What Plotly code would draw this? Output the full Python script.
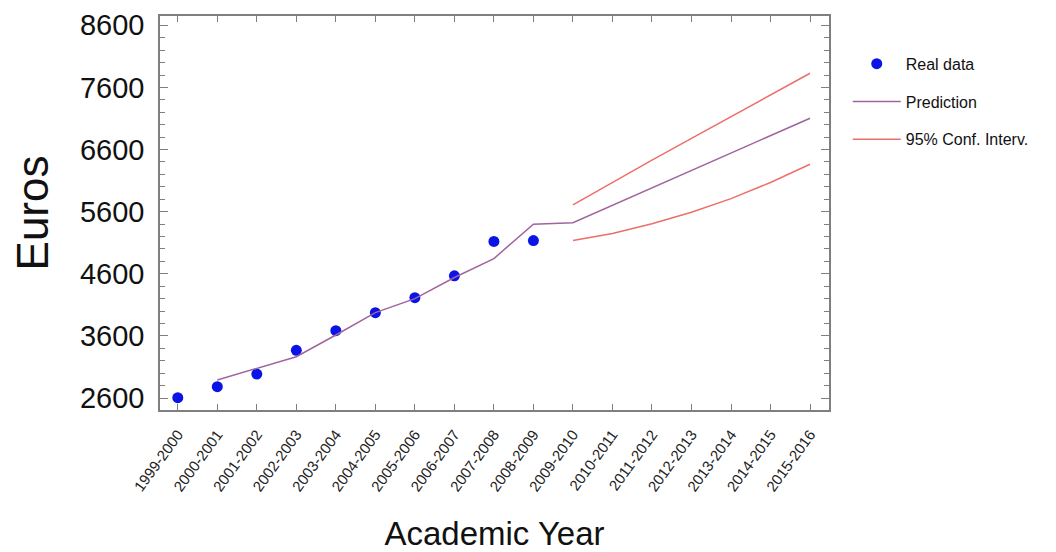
import plotly.graph_objects as go

# Academic years on the x axis
years = [
    "1999-2000", "2000-2001", "2001-2002", "2002-2003", "2003-2004",
    "2004-2005", "2005-2006", "2006-2007", "2007-2008", "2008-2009",
    "2009-2010", "2010-2011", "2011-2012", "2012-2013", "2013-2014",
    "2014-2015", "2015-2016",
]

# Observed fees (euros)
real_years = years[:10]
real_values = [2605, 2782, 2986, 3368, 3684, 3974, 4215, 4568, 5120, 5135]

# Fitted / forecast values
pred_years = years[1:]
pred_values = [2890, 3072, 3265, 3614, 3974, 4200, 4540, 4845, 5397,
               5423, 5703, 5983, 6264, 6544, 6824, 7104]

# 95% confidence band for the forecast horizon
ci_years = years[10:]
ci_upper = [5708, 6070, 6430, 6780, 7130, 7480, 7828]
ci_lower = [5135, 5250, 5405, 5590, 5810, 6070, 6363]

BLUE = "#0a14e6"
PURPLE = "#a0649e"
RED = "#ec6f6a"
FRAME = "#7f7f7f"
FONT = "Liberation Sans, Arial, sans-serif"

fig = go.Figure()
fig.add_trace(go.Scatter(
    x=real_years, y=real_values, mode="markers", name="Real data",
    marker=dict(color=BLUE, size=11), legendgroup="a",
))
fig.add_trace(go.Scatter(
    x=pred_years, y=pred_values, mode="lines", name="Prediction",
    line=dict(color=PURPLE, width=1.5), legendgroup="b",
))
fig.add_trace(go.Scatter(
    x=ci_years, y=ci_upper, mode="lines", name="95% Conf. Interv.",
    line=dict(color=RED, width=1.5), legendgroup="c",
))
fig.add_trace(go.Scatter(
    x=ci_years, y=ci_lower, mode="lines", name="95% Conf. Interv.",
    line=dict(color=RED, width=1.5), legendgroup="c", showlegend=False,
))

fig.update_layout(
    width=1056, height=552,
    margin=dict(l=160, r=227, t=16, b=142),
    paper_bgcolor="white", plot_bgcolor="white",
    font=dict(family=FONT, color="#111111"),
    showlegend=True,
    legend=dict(
        x=1.028, y=0.922, xanchor="left", yanchor="top",
        font=dict(size=16, color="#111111"),
        tracegroupgap=14, traceorder="grouped", itemwidth=48,
        bgcolor="rgba(0,0,0,0)",
    ),
)

fig.update_xaxes(
    type="category", categoryorder="array", categoryarray=years,
    range=[-0.45, 16.48], automargin=False,
    showline=True, linecolor=FRAME, linewidth=1.5, mirror="ticks",
    ticks="inside", ticklen=6, tickcolor=FRAME, tickwidth=1.2,
    tickangle=-54, tickfont=dict(size=15, color="#222222"),
    ticklabelstandoff=8,
    showgrid=False, zeroline=False,
    title=dict(text="Academic Year", font=dict(size=33, color="#111111"), standoff=31),
)
fig.update_yaxes(
    range=[2407, 8750], automargin=False,
    tickvals=[2600, 3600, 4600, 5600, 6600, 7600, 8600],
    showline=True, linecolor=FRAME, linewidth=1.5, mirror="ticks",
    ticks="inside", ticklen=8, tickcolor=FRAME, tickwidth=1.2,
    minor=dict(ticks="inside", dtick=200, tick0=2600, ticklen=5,
               tickcolor=FRAME, tickwidth=1.2, showgrid=False),
    tickfont=dict(size=29, color="#111111"),
    ticklabelstandoff=8,
    showgrid=False, zeroline=False,
    title=dict(text="Euros", font=dict(size=44, color="#111111"), standoff=18),
)

fig.write_html("out.html")
